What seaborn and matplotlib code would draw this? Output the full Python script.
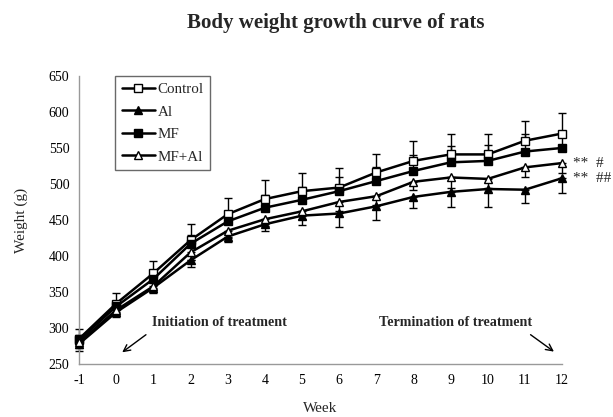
import matplotlib
matplotlib.use("Agg")
import matplotlib.pyplot as plt
import seaborn as sns
import pandas as pd
import numpy as np

weeks = [-1, 0, 1, 2, 3, 4, 5, 6, 7, 8, 9, 10, 11, 12]
control = [285, 334, 376, 422, 458, 479, 490, 495, 516, 532, 541, 541, 560, 570]
al      = [278, 322, 356, 394, 427, 444, 456, 459, 469, 482, 489, 493, 492, 508]
mf      = [283, 330, 368, 417, 448, 467, 478, 490, 504, 518, 530, 532, 545, 550]
mfal    = [280, 325, 358, 405, 435, 451, 462, 475, 483, 503, 509, 507, 523, 529]
control_sd = [13, 14, 17, 23, 22, 26, 25, 27, 26, 28, 28, 29, 27, 28]
al_sd      = [10, 7, 8, 9, 7, 9, 13, 19, 19, 16, 21, 25, 18, 20]
mf_sd      = [8, 8, 10, 12, 14, 18, 18, 20, 20, 22, 22, 22, 24, 22]
mfal_sd    = [8, 8, 8, 10, 10, 10, 10, 12, 12, 12, 14, 12, 14, 14]
series_names = ["Control", "Al", "MF", "MF+Al"]
signif_labels = ["**  #", "**  ##"]

sns.set_theme(style="white")
plt.rcParams["font.family"] = ["Liberation Serif", "DejaVu Serif"]
plt.rcParams["axes.unicode_minus"] = False

fig = plt.figure(figsize=(6.13, 4.17), dpi=100)
ax = fig.add_axes([0.129, 0.127, 0.788, 0.691])

styles = {
    "Control": dict(marker="s", mfc="white", mec="black", ms=6),
    "Al": dict(marker="^", mfc="black", mec="black", ms=6),
    "MF": dict(marker="s", mfc="black", mec="black", ms=6),
    "MF+Al": dict(marker="^", mfc="white", mec="black", ms=6),
}
values = {"Control": control, "Al": al, "MF": mf, "MF+Al": mfal}
sds = {"Control": control_sd, "Al": al_sd, "MF": mf_sd, "MF+Al": mfal_sd}
direction = {"Control": "up", "Al": "down", "MF": "up", "MF+Al": "down"}

x = np.array(weeks)
for name in series_names:
    y = np.array(values[name])
    sd = np.array(sds[name])
    if direction[name] == "up":
        yerr = [np.zeros_like(sd), sd]
    else:
        yerr = [sd, np.zeros_like(sd)]
    eb = ax.errorbar(x, y, yerr=yerr, fmt="none", ecolor="black", elinewidth=1.0,
                     capsize=3, capthick=1.0, zorder=2)
    for art in eb.lines[1] + eb.lines[2]:
        art.set_clip_on(False)
    for art in eb.lines[2]:
        art.set_clip_on(False)

for name in series_names:
    df = pd.DataFrame({"Week": weeks, "Weight": values[name]})
    st = styles[name]
    sns.lineplot(data=df, x="Week", y="Weight", ax=ax, color="black", lw=1.8,
                 marker=st["marker"], markerfacecolor=st["mfc"],
                 markeredgecolor=st["mec"], markersize=st["ms"],
                 markeredgewidth=1.0, label=name, zorder=3, clip_on=False)

ax.set_xlim(-1, 12)
ax.set_ylim(250, 650)
ax.set_xticks(weeks)
ax.set_yticks(range(250, 651, 50))
ax.tick_params(axis="both", labelsize=10, colors="black", direction="out",
               length=4, width=0.8, color="#888888", pad=3)
for s in ["top", "right"]:
    ax.spines[s].set_visible(False)
for s in ["left", "bottom"]:
    ax.spines[s].set_color("#999999")
    ax.spines[s].set_linewidth(1.0)
ax.set_xlabel("Week", fontsize=11)
ax.set_ylabel("Weight (g)", fontsize=11)
ax.xaxis.set_label_coords(0.5, -0.13)
ax.yaxis.set_label_coords(-0.105, 0.5)

leg = ax.legend(loc="upper left", bbox_to_anchor=(0.074, 1.0), fontsize=10.8,
                frameon=True, fancybox=False, edgecolor="#444444",
                labelspacing=0.6, handlelength=2.2, handletextpad=0.2,
                borderpad=0.45, borderaxespad=0.0)
leg.get_frame().set_linewidth(1.0)

ax.text(2.77, 307, "Initiation of treatment", fontsize=10.2, fontweight="bold",
        ha="center", va="center")
ax.annotate("", xy=(0.1, 264), xytext=(0.86, 293),
            arrowprops=dict(arrowstyle="->", color="black", lw=1.0))
ax.text(9.12, 307, "Termination of treatment", fontsize=10.2, fontweight="bold",
        ha="center", va="center")
ax.annotate("", xy=(11.84, 265), xytext=(11.09, 293),
            arrowprops=dict(arrowstyle="->", color="black", lw=1.0))

ax.text(12.3, mfal[-1], signif_labels[0], fontsize=11, ha="left", va="center", clip_on=False)
ax.text(12.3, al[-1], signif_labels[1], fontsize=11, ha="left", va="center", clip_on=False)

fig.text(0.547, 0.945, "Body weight growth curve of rats", fontsize=15,
         fontweight="bold", ha="center", va="center")

fig.savefig("out.png", dpi=100)
